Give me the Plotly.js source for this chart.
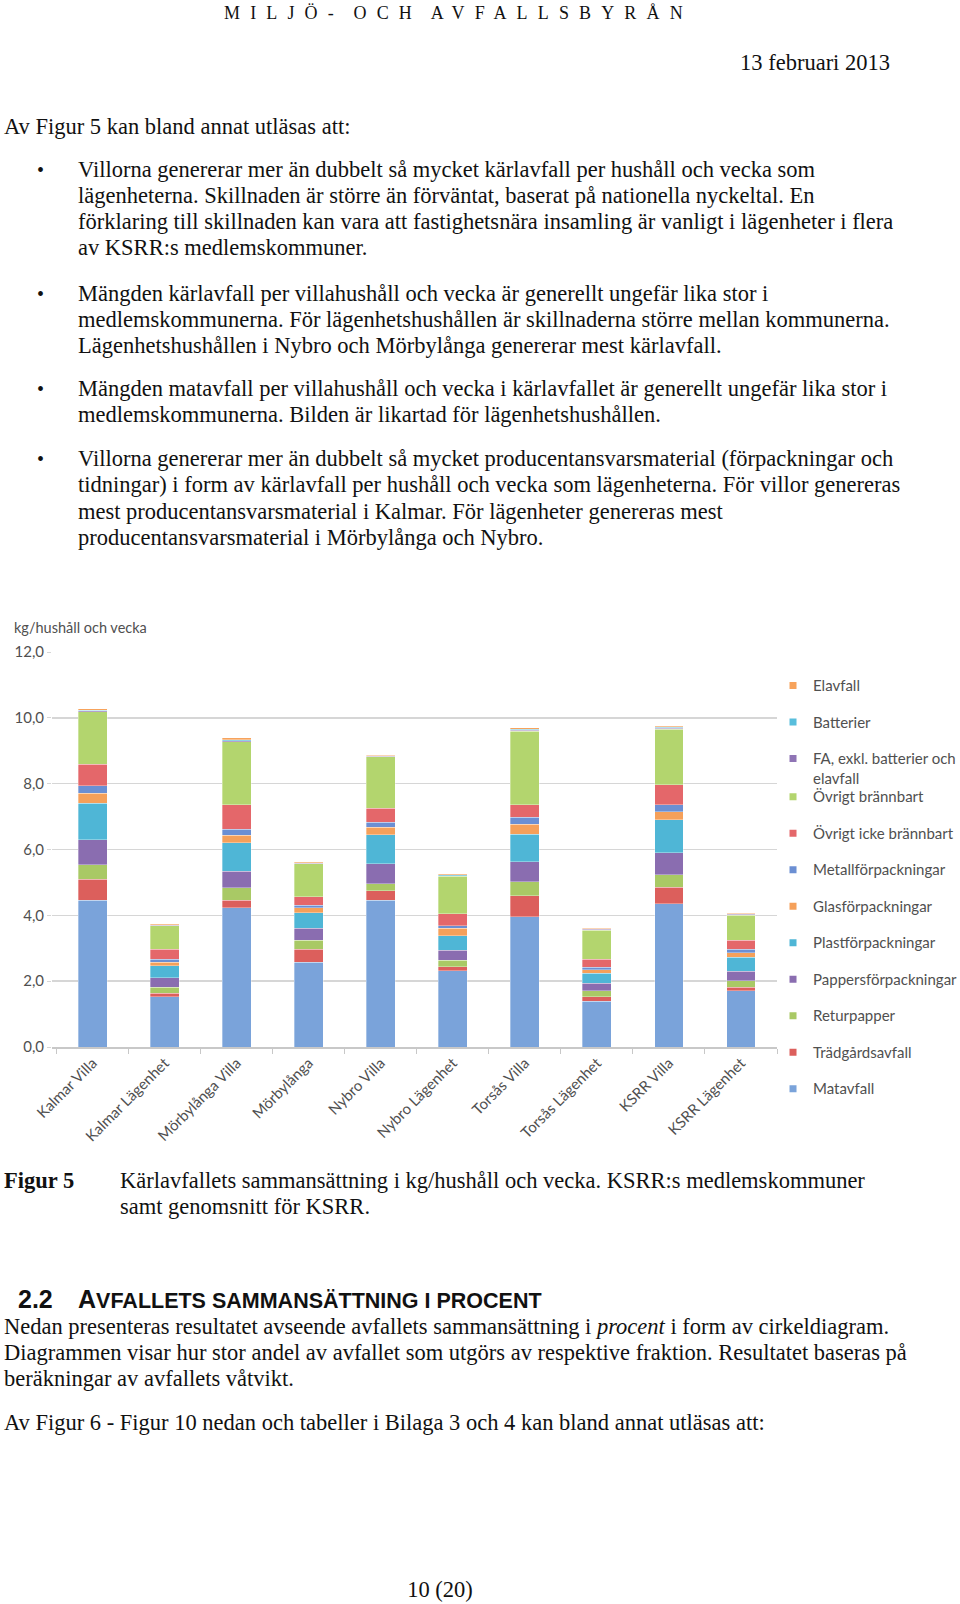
<!DOCTYPE html>
<html>
<head>
<meta charset="utf-8">
<script src="https://cdn.plot.ly/plotly-3.0.1.min.js"></script>
<style>
  html, body { margin: 0; padding: 0; background: #fff; overflow: hidden; }
  #page { position: relative; width: 960px; height: 1604px; overflow: hidden; font-family: "Liberation Serif", "Times New Roman", serif; color: #111; }
  .ln { position: absolute; white-space: nowrap; font-size: 22.5px; line-height: 26px; height: 26px; }
  .bul { position: absolute; left: 37px; font-size: 20px; line-height: 26px; height: 26px; }
  #chart { position: absolute; left: 0; top: 600px; width: 1000px; height: 560px; }
</style>
</head>
<body>
<div id="page">
  <div class="ln" style="left:224px; top:0px; font-size:18px; letter-spacing:10.15px; word-spacing:-5px;">MILJÖ- OCH AVFALLSBYRÅN</div>
  <div class="ln" style="right:70px; top:50px;">13 februari 2013</div>
  <div class="ln" style="left:4px; top:114px;">Av Figur 5 kan bland annat utläsas att:</div>

  <div class="bul" style="top:157px;">•</div>
  <div class="ln" style="left:78px; top:157px;">Villorna genererar mer än dubbelt så mycket kärlavfall per hushåll och vecka som</div>
  <div class="ln" style="left:78px; top:183px;">lägenheterna. Skillnaden är större än förväntat, baserat på nationella nyckeltal. En</div>
  <div class="ln" style="left:78px; top:209px;">förklaring till skillnaden kan vara att fastighetsnära insamling är vanligt i lägenheter i flera</div>
  <div class="ln" style="left:78px; top:235px;">av KSRR:s medlemskommuner.</div>

  <div class="bul" style="top:281px;">•</div>
  <div class="ln" style="left:78px; top:281px;">Mängden kärlavfall per villahushåll och vecka är generellt ungefär lika stor i</div>
  <div class="ln" style="left:78px; top:307px;">medlemskommunerna. För lägenhetshushållen är skillnaderna större mellan kommunerna.</div>
  <div class="ln" style="left:78px; top:333px;">Lägenhetshushållen i Nybro och Mörbylånga genererar mest kärlavfall.</div>

  <div class="bul" style="top:376px;">•</div>
  <div class="ln" style="left:78px; top:376px;">Mängden matavfall per villahushåll och vecka i kärlavfallet är generellt ungefär lika stor i</div>
  <div class="ln" style="left:78px; top:402px;">medlemskommunerna. Bilden är likartad för lägenhetshushållen.</div>

  <div class="bul" style="top:446px;">•</div>
  <div class="ln" style="left:78px; top:446px;">Villorna genererar mer än dubbelt så mycket producentansvarsmaterial (förpackningar och</div>
  <div class="ln" style="left:78px; top:472px;">tidningar) i form av kärlavfall per hushåll och vecka som lägenheterna. För villor genereras</div>
  <div class="ln" style="left:78px; top:499px;">mest producentansvarsmaterial i Kalmar. För lägenheter genereras mest</div>
  <div class="ln" style="left:78px; top:525px;">producentansvarsmaterial i Mörbylånga och Nybro.</div>

  <div id="chart"></div>

  <div class="ln" style="left:4px; top:1168px; font-weight:bold;">Figur 5</div>
  <div class="ln" style="left:120px; top:1168px;">Kärlavfallets sammansättning i kg/hushåll och vecka. KSRR:s medlemskommuner</div>
  <div class="ln" style="left:120px; top:1194px;">samt genomsnitt för KSRR.</div>

  <div class="ln" style="left:18px; top:1286px; font-family:'Liberation Sans', Arial, sans-serif; font-weight:bold; font-size:25px;">2.2</div>
  <div class="ln" style="left:78px; top:1286px; font-family:'Liberation Sans', Arial, sans-serif; font-weight:bold; font-size:25px;">A<span style="font-size:21.5px;">VFALLETS SAMMANSÄTTNING I PROCENT</span></div>
  <div class="ln" style="left:4px; top:1314px;">Nedan presenteras resultatet avseende avfallets sammansättning i <i>procent</i> i form av cirkeldiagram.</div>
  <div class="ln" style="left:4px; top:1340px;">Diagrammen visar hur stor andel av avfallet som utgörs av respektive fraktion. Resultatet baseras på</div>
  <div class="ln" style="left:4px; top:1366px;">beräkningar av avfallets våtvikt.</div>
  <div class="ln" style="left:4px; top:1410px;">Av Figur 6 - Figur 10 nedan och tabeller i Bilaga 3 och 4 kan bland annat utläsas att:</div>

  <div class="ln" style="left:340px; width:200px; text-align:center; top:1577px;">10 (20)</div>
</div>

<script>
const categories = ["Kalmar Villa", "Kalmar Lägenhet", "Mörbylånga Villa", "Mörbylånga", "Nybro Villa",
                    "Nybro Lägenhet", "Torsås Villa", "Torsås Lägenhet", "KSRR Villa", "KSRR Lägenhet"];

const seriesNames = ["Matavfall", "Trädgårdsavfall", "Returpapper", "Pappersförpackningar", "Plastförpackningar",
                     "Glasförpackningar", "Metallförpackningar", "Övrigt icke brännbart", "Övrigt brännbart",
                     "FA, exkl. batterier och<br>elavfall", "Batterier", "Elavfall"];

const matavfall            = [4.46, 1.53, 4.23, 2.57, 4.46, 2.32, 3.95, 1.39, 4.35, 1.71];
const tradgardsavfall      = [0.63, 0.10, 0.23, 0.40, 0.28, 0.12, 0.64, 0.14, 0.51, 0.10];
const returpapper          = [0.45, 0.18, 0.38, 0.28, 0.22, 0.20, 0.43, 0.18, 0.38, 0.21];
const pappersforpackningar = [0.76, 0.29, 0.50, 0.36, 0.60, 0.30, 0.61, 0.23, 0.66, 0.28];
const plastforpackningar   = [1.11, 0.37, 0.86, 0.47, 0.89, 0.44, 0.84, 0.30, 1.01, 0.42];
const glasforpackningar    = [0.30, 0.10, 0.23, 0.15, 0.22, 0.23, 0.30, 0.10, 0.23, 0.15];
const metallforpackningar  = [0.22, 0.10, 0.19, 0.08, 0.16, 0.07, 0.21, 0.08, 0.22, 0.10];
const ovrigtIckeBrannbart  = [0.66, 0.30, 0.74, 0.25, 0.43, 0.37, 0.38, 0.25, 0.60, 0.28];
const ovrigtBrannbart      = [1.59, 0.71, 1.91, 1.00, 1.56, 1.14, 2.24, 0.88, 1.70, 0.76];
const faExklBatterier      = [0.03, 0.02, 0.03, 0.02, 0.02, 0.02, 0.03, 0.02, 0.03, 0.02];
const batterier            = [0.02, 0.02, 0.03, 0.02, 0.01, 0.02, 0.03, 0.02, 0.02, 0.02];
const elavfall             = [0.05, 0.03, 0.07, 0.03, 0.02, 0.03, 0.04, 0.02, 0.03, 0.02];

const yTickVals = [0, 2, 4, 6, 8, 10, 12];
const yAxisLabel = "kg/hushåll och vecka";

const seriesValues = [matavfall, tradgardsavfall, returpapper, pappersforpackningar, plastforpackningar,
                      glasforpackningar, metallforpackningar, ovrigtIckeBrannbart, ovrigtBrannbart,
                      faExklBatterier, batterier, elavfall];
const seriesColors = ["#7aa3da", "#dc5f5c", "#a9c965", "#8a6db0", "#4fb6d6", "#f5a05a",
                      "#6b8fd3", "#e4676a", "#b3d56e", "#8f74b5", "#58bedc", "#f7a35c"];

const traces = [];
seriesValues.forEach((vals, i) => {
  traces.push({
    type: "bar", x: categories, y: vals, name: seriesNames[i].replace("<br>", " "),
    marker: { color: seriesColors[i], line: { color: "rgba(255,255,255,0.55)", width: 0.6 } },
    showlegend: false, hoverinfo: "x+y+name"
  });
});
// legend entries (small square keys, as in the original), listed top series first;
// the top three keys sit in a separate legend box so the two-line entry does not shift the rest
for (let i = seriesValues.length - 1; i >= 0; i--) {
  traces.push({
    type: "scatter", mode: "markers", x: [categories[0]], y: [null], name: seriesNames[i],
    legendgroup: "g" + i, legend: i >= 9 ? "legend" : "legend2",
    marker: { color: seriesColors[i], symbol: "square", size: 7 },
    showlegend: true, hoverinfo: "skip"
  });
}

const tickFont = { family: "Lato, 'Open Sans', sans-serif", size: 15, color: "#505050" };
const legendBase = {
  x: 0.9945, xanchor: "left", yref: "paper", yanchor: "top",
  traceorder: "grouped", tracegroupgap: 14, valign: "top", maxheight: 600,
  font: { family: "Lato, 'Open Sans', sans-serif", size: 15, color: "#505050" },
  bgcolor: "rgba(0,0,0,0)", itemclick: false
};

const layout = {
  width: 1000, height: 560,
  margin: { l: 52, r: 223, t: 52, b: 113 },
  barmode: "stack", bargap: 0.6,
  separators: ", ",
  paper_bgcolor: "#ffffff", plot_bgcolor: "#ffffff",
  font: tickFont,
  xaxis: {
    type: "category", tickangle: -45, tickfont: tickFont,
    showline: true, linecolor: "#c8c8c8", linewidth: 1.5,
    ticks: "outside", tickson: "boundaries", ticklen: 5, tickcolor: "#c8c8c8",
    showgrid: false
  },
  yaxis: {
    range: [0, 12], tickvals: yTickVals, tickformat: ".1f", tickfont: tickFont,
    showgrid: true, gridcolor: "#d6d6d6", gridwidth: 1.5,
    zeroline: false, showline: false,
    ticks: "outside", ticklen: 4, tickcolor: "#d6d6d6"
  },
  legend: Object.assign({}, legendBase, { y: 0.9565 }),
  legend2: Object.assign({}, legendBase, { y: 0.675 }),
  annotations: [{
    text: yAxisLabel, xref: "paper", yref: "paper", x: -0.055, y: 1.062,
    xanchor: "left", yanchor: "middle", showarrow: false,
    font: { family: "Lato, 'Open Sans', sans-serif", size: 14.5, color: "#505050" }
  }]
};

Plotly.newPlot("chart", traces, layout, { displayModeBar: false, staticPlot: true });
</script>
</body>
</html>
